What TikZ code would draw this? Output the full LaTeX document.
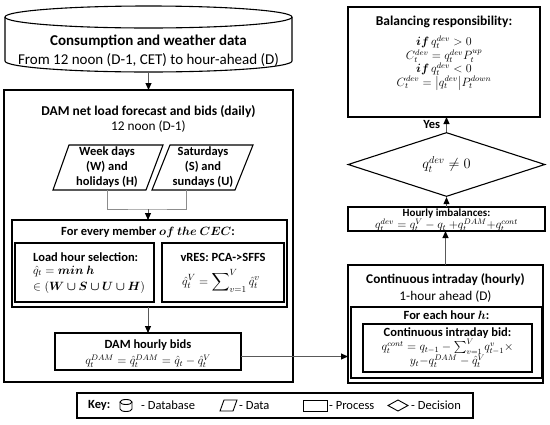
\documentclass[tikz,border=0pt]{standalone}
\usepackage{amsmath,amssymb,bm}
\usepackage{fontspec}
\setmainfont{Carlito}
\usetikzlibrary{arrows.meta,shapes.geometric}
\begin{document}
\begin{tikzpicture}[x=1pt,y=-1pt,
  lw/.style={line width=1.1pt},
  box/.style={draw, line width=1.1pt, anchor=north west, inner sep=0pt, outer sep=0pt},
  txt/.style={font=\fontsize{12.5}{15}\selectfont, align=center, inner sep=0pt},
  btxt/.style={font=\fontsize{12.5}{15}\selectfont\bfseries, align=center, inner sep=0pt},
  mth/.style={font=\fontsize{12}{14}\selectfont, inner sep=0pt},
  ttl/.style={font=\fontsize{13.5}{16}\selectfont\bfseries, align=center, inner sep=0pt},
  sub/.style={font=\fontsize{13.3}{16}\selectfont, align=center, inner sep=0pt},
  arr/.style={draw=black!65, line width=0.9pt, -{Triangle[length=7pt,width=6pt,color=black,fill=black]}},
  gline/.style={draw=black!45, line width=0.9pt},
  icon/.style={line width=0.9pt},
  key/.style={anchor=west, inner sep=0pt, font=\fontsize{12.5}{15}\selectfont},
]
\useasboundingbox (0,0) rectangle (550,424);

% database cylinder
\draw[lw] (5,17) -- (5,61) arc[start angle=180,end angle=0,x radius=143.5,y radius=11] -- (292,17);
\draw[lw] (148.5,17) ellipse[x radius=143.5,y radius=11];
\node[inner sep=0pt, minimum width=287, minimum height=44, anchor=south] (db) at (148.5,72) {};
\node[font=\fontsize{15}{19}\selectfont, align=center, inner sep=0pt] (dbt) at (148.5,50.5)
  {\textbf{Consumption and weather data}\\From 12 noon (D-1, CET) to hour-ahead (D)};

% DAM block
\node[box, minimum width=289, minimum height=292] (dam) at (4,90) {};
\draw[arr] (db.south) -- (dam.north);
\node[ttl] (damt) at (148.5,112) {DAM net load forecast and bids (daily)};
\node[sub] (dams) at (148.5,127) {12 noon (D-1)};

% data parallelograms
\draw[lw] (53,190) -- (69,145) -- (163,145) -- (146,190) -- cycle;
\draw[lw] (152,190) -- (170,145) -- (253,145) -- (235,190) -- cycle;
\node[btxt, minimum height=45] (wk) at (107,167.5) {Week days\\(W) and\\holidays (H)};
\node[btxt, minimum height=45] (sat) at (203,167.5) {Saturdays\\(S) and\\sundays (U)};
\coordinate (jn) at (148,209);
\draw[gline] (wk.south) |- (jn) -| ([xshift=-17pt]sat.south);

% for every member
\node[box, minimum width=275, minimum height=87] (every) at (12,220) {};
\draw[arr] (jn) -- (jn |- every.north);
\node[btxt] (evt) at (148,232) {For every member $\bm{of\ the\ CEC}$:};
\node[box, minimum width=139, minimum height=59] (lhs) at (15,243) {};
\node[btxt, anchor=west] (lhst) at (33,257) {Load hour selection:};
\node[mth, anchor=west] (lhs1) at (33,271) {$\hat{q}_t = \bm{min\ h}$};
\node[mth, anchor=west] (lhs2) at (33,287) {$\in (\bm{W \cup S \cup U \cup H})$};
\node[box, minimum width=122, minimum height=59] (vres) at (162,243) {};
\node[btxt] (vrest) at (223,257) {vRES: PCA->SFFS};
\node[mth, font=\fontsize{12.5}{14}\selectfont] (vresf) at (221,281) {$\hat{q}_t^V = \displaystyle\sum\nolimits_{v=1}^{V}\hat{q}_t^v$};

% DAM hourly bids
\node[box, minimum width=186, minimum height=37] (bids) at (55,333) {};
\draw[arr] (jn |- every.south) -- (jn |- bids.north);
\node[btxt] (bidst) at (148,345) {DAM hourly bids};
\node[mth] (bidsf) at (148,361) {$q_t^{DAM} = \hat{q}_t^{DAM} = \hat{q}_t - \hat{q}_t^V$};

% balancing responsibility
\node[box, minimum width=192, minimum height=110] (bal) at (348,7) {};
\node[ttl] (balt) at (444,22) {Balancing responsibility:};
\node[mth, font=\fontsize{11.5}{14}\selectfont] (bal1) at (444,42) {$\bm{if}\,q_t^{dev} > 0$};
\node[mth, font=\fontsize{11.5}{14}\selectfont] (bal2) at (444,56) {$C_t^{dev} = q_t^{dev}P_t^{up}$};
\node[mth, font=\fontsize{11.5}{14}\selectfont] (bal3) at (444,69) {$\bm{if}\,q_t^{dev} < 0$};
\node[mth, font=\fontsize{11.5}{14}\selectfont] (bal4) at (444,83) {$C_t^{dev} = \bigl|q_t^{dev}\bigr|P_t^{down}$};

% decision
\node[draw, lw, diamond, minimum width=197, minimum height=45, inner sep=0pt, font=\fontsize{14}{15}\selectfont] (dia) at (446.5,164.5) {$q_t^{dev} \neq 0$};
\draw[arr] (dia.north) -- (dia.north |- bal.south) node[midway, left=6pt, btxt] (yes) {Yes};

% hourly imbalances
\node[box, minimum width=197, minimum height=24] (hour) at (348,207) {};
\node[btxt, font=\fontsize{11}{12}\selectfont\bfseries] (hourt) at (446.5,214) {Hourly imbalances:};
\node[mth, font=\fontsize{11.5}{12}\selectfont] (hourf) at (446.5,225.5) {$q_t^{dev} = q_t^V - q_t\ {+}q_t^{DAM}{+}q_t^{cont}$};
\draw[arr] (hour.north) -- (dia.south);

% continuous intraday
\node[box, minimum width=195, minimum height=118] (ci) at (348,265) {};
\draw[arr] (ci.north) -- (ci.north |- hour.south);
\node[ttl, font=\fontsize{13.3}{16}\selectfont\bfseries] (cit) at (445.5,280) {Continuous intraday (hourly)};
\node[sub] (cis) at (445.5,297) {1-hour ahead (D)};
\node[box, minimum width=191, minimum height=71] (each) at (351,307) {};
\node[btxt] (eacht) at (446.5,315.5) {For each hour $\bm{h}$:};
\node[box, minimum width=169, minimum height=48] (cib) at (363,324) {};
\node[btxt] (cibt) at (447.5,333) {Continuous intraday bid:};
\node[mth, font=\fontsize{12}{12}\selectfont] (cibf1) at (447.5,347) {$q_t^{cont} = q_{t-1} - \sum\nolimits_{v=1}^{V} q_{t-1}^v \times$};
\node[mth, font=\fontsize{12}{12}\selectfont] (cibf2) at (447.5,361) {$y_t{-}q_t^{DAM} - \hat{q}_t^V$};

\draw[arr] ([yshift=-5pt]bids.east) -- ([yshift=-5pt]bids.east -| ci.west);

% key
\node[box, minimum width=396, minimum height=25] (key) at (77,393) {};
\node[key, font=\fontsize{12.5}{15}\selectfont\bfseries] (keyl) at (88,405.5) {Key:};
\draw[icon] (120,402) -- (120,409) arc[start angle=180,end angle=0,x radius=6,y radius=2.5] -- (132,402);
\draw[icon] (126,402) ellipse[x radius=6,y radius=2.5];
\node[key] (kdb) at (141,405.5) {- Database};
\draw[icon] (220,411) -- (224,400) -- (237,400) -- (233,411) -- cycle;
\node[key] (kda) at (239,405.5) {- Data};
\draw[icon] (303,400) rectangle (327,411);
\node[key] (kpr) at (329,405.5) {- Process};
\draw[icon] (388,405.5) -- (398,400) -- (408,405.5) -- (398,411) -- cycle;
\node[key] (kde) at (411,405.5) {- Decision};
\end{tikzpicture}
\end{document}
